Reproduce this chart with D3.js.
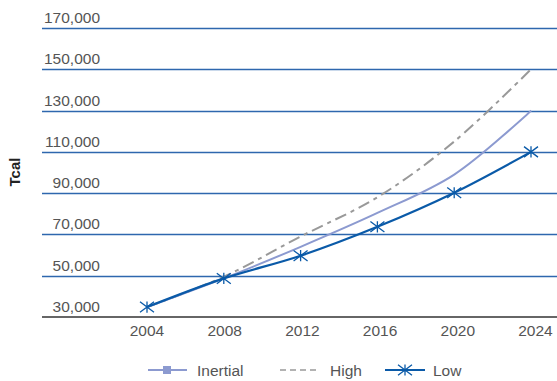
<!DOCTYPE html>
<html>
<head>
<meta charset="utf-8">
<script src="https://cdn.jsdelivr.net/npm/d3@7"></script>
<style>
  body { margin: 0; background: #fff; }
  text { font-family: "Liberation Sans", Arial, sans-serif; }
</style>
</head>
<body>
<div id="chart"></div>
<script>
// data
var years = [2004, 2008, 2012, 2016, 2020, 2024];
var inertial = [34800, 48700, 64000, 80400, 99000, 130000];
var high = [34800, 49500, 69000, 88000, 115000, 150000];
var low = [34800, 48700, 59700, 73700, 90200, 110000];
var y_ticks = [30000, 50000, 70000, 90000, 110000, 130000, 150000, 170000];
var x_ticks = [2004, 2008, 2012, 2016, 2020, 2024];

var chart_width = 557;
var chart_height = 381;

var svg = d3.select('#chart')
  .append('svg')
  .attr('width', chart_width)
  .attr('height', chart_height);

// scales
var x_scale = d3.scaleLinear()
  .domain([2004, 2024])
  .range([147, 531]);

var y_scale = d3.scaleLinear()
  .domain([30000, 170000])
  .range([317, 28]);

var fmt = d3.format(',');

// gridlines + y labels
svg.selectAll('.grid')
  .data(y_ticks.slice(1))
  .enter()
  .append('line')
  .attr('x1', 42)
  .attr('x2', chart_width)
  .attr('y1', function(d) { return Math.round(y_scale(d)) + 0.5; })
  .attr('y2', function(d) { return Math.round(y_scale(d)) + 0.5; })
  .attr('stroke', '#2e67ae')
  .attr('stroke-width', 1.4);

// bottom axis line
svg.append('line')
  .attr('x1', 42)
  .attr('x2', chart_width)
  .attr('y1', y_scale(30000))
  .attr('y2', y_scale(30000))
  .attr('stroke', '#333')
  .attr('stroke-width', 1.6);

svg.selectAll('.ylab')
  .data(y_ticks)
  .enter()
  .append('text')
  .attr('x', 100)
  .attr('y', function(d) { return y_scale(d) - 5; })
  .attr('text-anchor', 'end')
  .attr('font-size', '15.5px')
  .attr('fill', '#555')
  .text(function(d) { return fmt(d); });

svg.selectAll('.xlab')
  .data(x_ticks)
  .enter()
  .append('text')
  .attr('x', function(d, i) { return x_scale(d) + i * 0.9; })
  .attr('y', 336)
  .attr('text-anchor', 'middle')
  .attr('font-size', '15.5px')
  .attr('fill', '#555')
  .text(function(d) { return d; });

svg.append('text')
  .attr('transform', 'translate(20,172) rotate(-90)')
  .attr('text-anchor', 'middle')
  .attr('font-size', '15px')
  .attr('font-weight', 'bold')
  .attr('fill', '#222')
  .text('Tcal');

// lines
var line = d3.line()
  .x(function(d, i) { return x_scale(years[i]); })
  .y(function(d) { return y_scale(d); })
  .curve(d3.curveCatmullRom);

svg.append('path')
  .attr('d', line(high))
  .attr('fill', 'none')
  .attr('stroke', '#999')
  .attr('stroke-width', 2)
  .attr('stroke-dasharray', '12,5,4,5');

svg.append('path')
  .attr('d', line(inertial))
  .attr('fill', 'none')
  .attr('stroke', '#8c9ad0')
  .attr('stroke-width', 2);

svg.append('path')
  .attr('d', line(low))
  .attr('fill', 'none')
  .attr('stroke', '#0a5aa8')
  .attr('stroke-width', 2.2);

function star(g, cx, cy, r) {
  g.append('path')
    .attr('d', 'M' + (cx - r) + ',' + (cy - r * 0.75) + 'L' + (cx + r) + ',' + (cy + r * 0.75) +
      'M' + (cx - r) + ',' + (cy + r * 0.75) + 'L' + (cx + r) + ',' + (cy - r * 0.75) +
      'M' + cx + ',' + (cy - r * 0.8) + 'L' + cx + ',' + (cy + r * 0.8))
    .attr('stroke', '#0a5aa8')
    .attr('stroke-width', 1.3)
    .attr('fill', 'none');
}

low.forEach(function(d, i) {
  star(svg, x_scale(years[i]), y_scale(d), 7);
});

// legend
var leg_y = 370;
var legend = svg.append('g');

legend.append('line')
  .attr('x1', 148).attr('x2', 187).attr('y1', leg_y).attr('y2', leg_y)
  .attr('stroke', '#8c9ad0').attr('stroke-width', 2);
legend.append('rect')
  .attr('x', 163).attr('y', leg_y - 4).attr('width', 8).attr('height', 8)
  .attr('fill', '#8c9ad0');
legend.append('text')
  .attr('x', 197).attr('y', leg_y + 6)
  .attr('font-size', '15.5px').attr('fill', '#555')
  .text('Inertial');

legend.append('line')
  .attr('x1', 280).attr('x2', 320).attr('y1', leg_y).attr('y2', leg_y)
  .attr('stroke', '#999').attr('stroke-width', 1.5)
  .attr('stroke-dasharray', '6,4');
legend.append('text')
  .attr('x', 330).attr('y', leg_y + 6)
  .attr('font-size', '15.5px').attr('fill', '#555')
  .text('High');

legend.append('line')
  .attr('x1', 385).attr('x2', 425).attr('y1', leg_y).attr('y2', leg_y)
  .attr('stroke', '#0a5aa8').attr('stroke-width', 2);
star(legend, 405, leg_y, 7);
legend.append('text')
  .attr('x', 433).attr('y', leg_y + 6)
  .attr('font-size', '15.5px').attr('fill', '#555')
  .text('Low');
</script>
</body>
</html>
